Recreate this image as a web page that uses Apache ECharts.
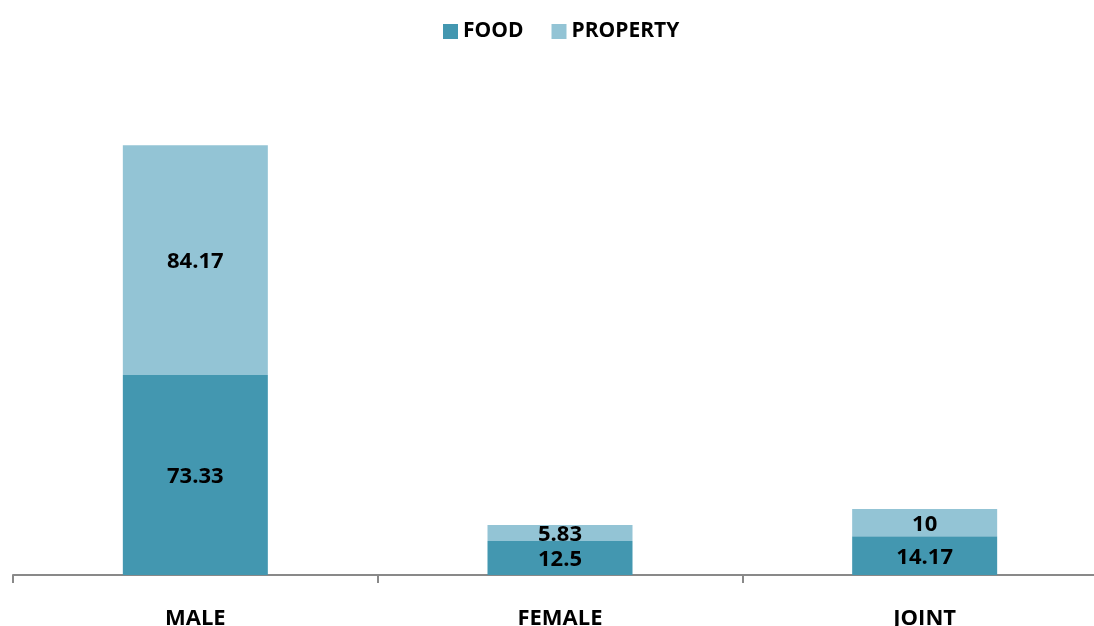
<!DOCTYPE html>
<html>
<head>
<meta charset="utf-8">
<script src="https://cdn.jsdelivr.net/npm/echarts@6/dist/echarts.min.js"></script>
<style>html,body{margin:0;padding:0;background:#fff}#c{width:1094px;height:626px}</style>
</head>
<body>
<div id="c"></div>
<script>
var categories = ['MALE', 'FEMALE', 'JOINT'];
var foodValues = [73.33, 12.5, 14.17];
var propertyValues = [84.17, 5.83, 10];
var seriesNames = ['FOOD', 'PROPERTY'];

var FONT = '"Open Sans", sans-serif';
var chart = echarts.init(document.getElementById('c'), null, {renderer: 'canvas'});
var labelStyle = {show: true, position: 'inside', offset: [0, 2], color: '#000', fontFamily: FONT, fontWeight: 'bold', fontSize: 22};
chart.setOption({
  animation: false,
  color: ['#4397B0', '#93C4D5'],
  legend: {
    top: 16, left: 438, itemWidth: 15, itemHeight: 15, itemGap: 28,
    icon: 'rect',
    textStyle: {fontFamily: FONT, fontWeight: 'bold', fontSize: 21, color: '#000'},
    data: seriesNames
  },
  grid: {left: 13, width: 1094, top: 84, bottom: 51, containLabel: false, outerBoundsMode: 'none'},
  xAxis: {
    type: 'category', data: categories,
    axisLine: {lineStyle: {color: '#898989', width: 2}},
    axisTick: {show: true, length: 8, lineStyle: {color: '#898989', width: 2}},
    axisLabel: {margin: 33, color: '#000', fontFamily: FONT, fontWeight: 'bold', fontSize: 22}
  },
  yAxis: {type: 'value', min: 0, max: 180, show: false, splitLine: {show: false}},
  series: [
    {name: seriesNames[0], type: 'bar', stack: 's', barWidth: 145, data: foodValues, label: labelStyle},
    {name: seriesNames[1], type: 'bar', stack: 's', barWidth: 145, data: propertyValues, label: labelStyle}
  ]
});
</script>
</body>
</html>
